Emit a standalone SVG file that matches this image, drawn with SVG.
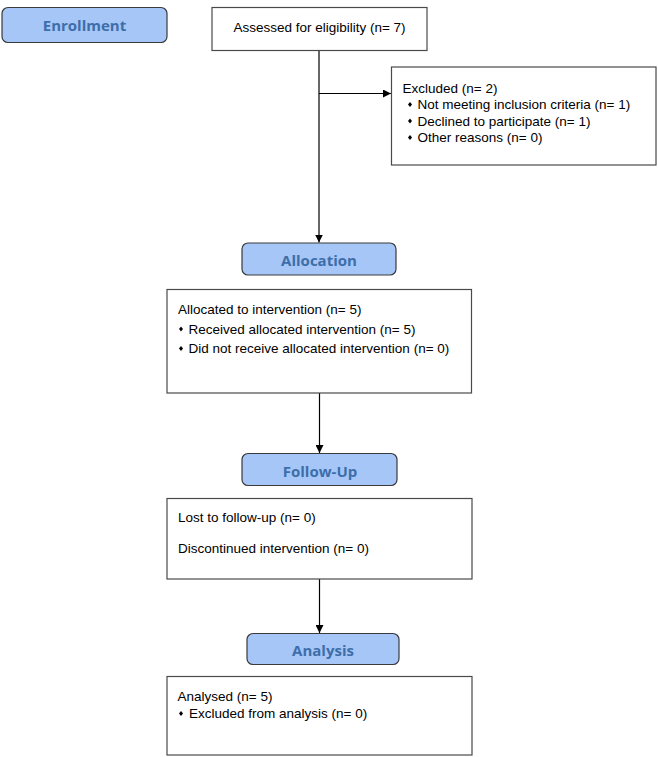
<svg xmlns="http://www.w3.org/2000/svg" width="658" height="757" viewBox="0 0 658 757">
<defs>
<marker id="arr" viewBox="0 0 10 10" refX="10" refY="5" markerWidth="8" markerHeight="8" markerUnits="userSpaceOnUse" orient="auto">
<path d="M0,0 L10,5 L0,10 z" fill="#000"/>
</marker>
<path id="dia" d="M0,-2.6 L2,0 L0,2.6 L-2,0 z" fill="#000"/>
</defs>
<style>
.hdr{fill:#a6c6f7;stroke:#3a3a3a;stroke-width:1.2}
.hdrt{font-family:"Open Sans","DejaVu Sans",sans-serif;font-weight:700;font-size:15px;fill:#3d6ea9;text-anchor:middle}
.box{fill:#fff;stroke:#4a4a4a;stroke-width:1.2}
.t{font-family:"Liberation Sans",Arial,sans-serif;font-size:13.5px;fill:#000}
.c{stroke:#000;stroke-width:1.2;fill:none}
</style>
<rect width="658" height="757" fill="#fff"/>
<g id="connectors">
<line class="c" x1="319" y1="50.5" x2="319" y2="242.5" marker-end="url(#arr)"/>
<line class="c" x1="319" y1="93.5" x2="391" y2="93.5" marker-end="url(#arr)"/>
<line class="c" x1="319.5" y1="393" x2="319.5" y2="453" marker-end="url(#arr)"/>
<line class="c" x1="319.5" y1="579" x2="319.5" y2="633" marker-end="url(#arr)"/>
</g>
<g id="enrollment">
<rect class="hdr" x="2" y="7.5" width="165" height="35" rx="6"/>
<text class="hdrt" x="84.5" y="30.5">Enrollment</text>
</g>
<g id="assessed">
<rect class="box" x="212" y="7.5" width="215" height="43"/>
<text class="t" x="319.5" y="32" text-anchor="middle">Assessed for eligibility (n= 7)</text>
</g>
<g id="excluded">
<rect class="box" x="391.5" y="67" width="264.5" height="98"/>
<text class="t" x="402.5" y="92.5">Excluded (n= 2)</text>
<use href="#dia" x="410" y="104.5"/>
<text class="t" x="417.5" y="109">Not meeting inclusion criteria (n= 1)</text>
<use href="#dia" x="410" y="121"/>
<text class="t" x="417.5" y="125.5">Declined to participate (n= 1)</text>
<use href="#dia" x="410" y="137.5"/>
<text class="t" x="417.5" y="142">Other reasons (n= 0)</text>
</g>
<g id="allocation">
<rect class="hdr" x="242" y="243" width="154" height="32" rx="6"/>
<text class="hdrt" x="319" y="266">Allocation</text>
</g>
<g id="allocated">
<rect class="box" x="167" y="289.5" width="304.5" height="103.5"/>
<text class="t" x="178" y="314">Allocated to intervention (n= 5)</text>
<use href="#dia" x="181" y="329"/>
<text class="t" x="188.5" y="333.5">Received allocated intervention (n= 5)</text>
<use href="#dia" x="181" y="348.5"/>
<text class="t" x="188.5" y="353">Did not receive allocated intervention (n= 0)</text>
</g>
<g id="followup">
<rect class="hdr" x="242" y="453.5" width="155" height="32" rx="6"/>
<text class="hdrt" x="320" y="476.5">Follow-Up</text>
</g>
<g id="lost">
<rect class="box" x="167" y="498.5" width="305" height="80.5"/>
<text class="t" x="178" y="522">Lost to follow-up (n= 0)</text>
<text class="t" x="178" y="552.5">Discontinued intervention (n= 0)</text>
</g>
<g id="analysis">
<rect class="hdr" x="247" y="633.5" width="152" height="31" rx="6"/>
<text class="hdrt" x="323" y="656">Analysis</text>
</g>
<g id="analysed">
<rect class="box" x="167" y="676.5" width="305" height="78.5"/>
<text class="t" x="177.5" y="701">Analysed (n= 5)</text>
<use href="#dia" x="181" y="713.5"/>
<text class="t" x="189" y="718">Excluded from analysis (n= 0)</text>
</g>
</svg>
